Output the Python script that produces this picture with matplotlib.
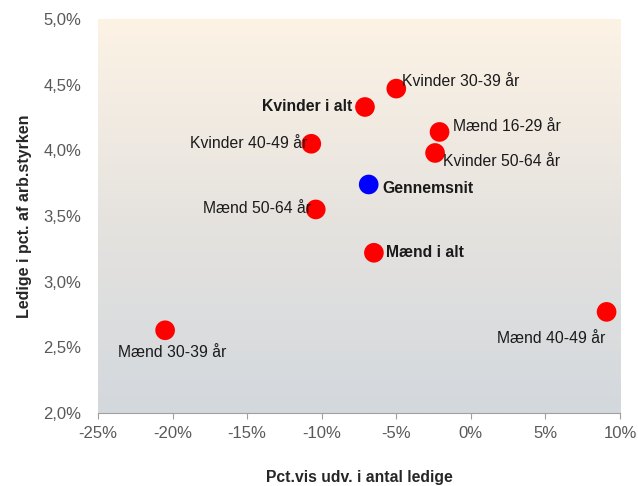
import numpy as np
import matplotlib
matplotlib.use("Agg")
import matplotlib.pyplot as plt
from matplotlib.colors import LinearSegmentedColormap

plt.rcParams['font.family'] = ['Liberation Sans', 'DejaVu Sans']

labels = ["Kvinder 30-39 år", "Kvinder i alt", "Mænd 16-29 år", "Kvinder 50-64 år",
          "Gennemsnit", "Kvinder 40-49 år", "Mænd 50-64 år", "Mænd i alt",
          "Mænd 30-39 år", "Mænd 40-49 år"]
x_vals = [-5.0, -7.1, -2.1, -2.4, -6.85, -10.7, -10.4, -6.5, -20.5, 9.1]
y_vals = [4.47, 4.33, 4.14, 3.98, 3.74, 4.05, 3.55, 3.22, 2.63, 2.77]
colors = ["#ff0000"] * 4 + ["#0000ff"] + ["#ff0000"] * 5
bold = [False, True, False, False, True, False, False, True, False, False]
# label offsets in points and alignment
offsets = [(4, 5, 'left'), (-9, 0, 'right'), (10, 4, 'left'), (6, -6, 'left'),
           (10, -3, 'left'), (-3, 0, 'right'), (-3, 1, 'right'), (9, 0, 'left'),
           (5, -16, 'center'), (-40, -19, 'center')]

x_ticks = [-25, -20, -15, -10, -5, 0, 5, 10]
y_ticks = [2.0, 2.5, 3.0, 3.5, 4.0, 4.5, 5.0]

fig = plt.figure(figsize=(6.38, 4.86), dpi=100)
ax = fig.add_axes([0.1536, 0.1502, 0.8182, 0.8107])
ax.set_xlim(-25, 10)
ax.set_ylim(2.0, 5.0)

cmap = LinearSegmentedColormap.from_list("bg", ["#d3d8dd", "#e6e3df", "#fdf3e5"])
grad = np.linspace(0, 1, 256).reshape(-1, 1)
ax.imshow(grad, aspect='auto', cmap=cmap, origin='lower',
          extent=[-25, 10, 2.0, 5.0], zorder=0)

ax.scatter(x_vals, y_vals, s=200, c=colors, edgecolors='none', zorder=3)

for lab, xv, yv, b, (dx, dy, ha) in zip(labels, x_vals, y_vals, bold, offsets):
    ax.annotate(lab, (xv, yv), xytext=(dx, dy), textcoords='offset points',
                ha=ha, va='center', fontsize=11.3, color='#1a1a1a',
                fontweight='bold' if b else 'normal', zorder=4)

ax.set_xticks(x_ticks)
ax.set_xticklabels([f"{t}%" for t in x_ticks])
ax.set_yticks(y_ticks)
ax.set_yticklabels([f"{t:.1f}%".replace('.', ',') for t in y_ticks])
ax.tick_params(axis='x', length=4, color='#a0a0a0', labelsize=12,
               labelcolor='#595959', pad=5)
ax.tick_params(axis='y', length=0, labelsize=12, labelcolor='#595959', pad=12)

for s in ['top', 'right', 'left']:
    ax.spines[s].set_visible(False)
ax.spines['bottom'].set_color('#a0a0a0')

ax.set_xlabel("Pct.vis udv. i antal ledige", fontsize=11.3, fontweight='bold',
              color='#262626', labelpad=21)
ax.set_ylabel("Ledige i pct. af arb.styrken", fontsize=11.5, fontweight='bold',
              color='#262626', labelpad=8)

fig.savefig("out.png", dpi=100)
